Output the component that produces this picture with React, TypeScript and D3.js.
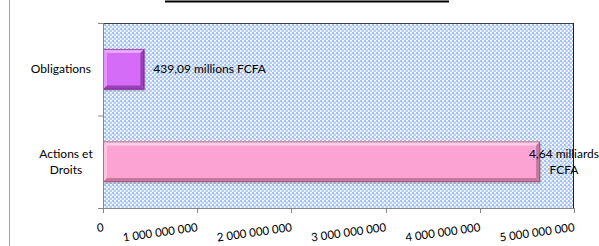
import React from "react";
import * as d3 from "d3";

const categories = ["Obligations", "Actions et Droits"];
const categoryLines = [["Obligations"], ["Actions et", "Droits"]];
const values = [439090000, 4640000000];
const valueLabels = [["439,09 millions FCFA"], ["4,64 milliards", "FCFA"]];
const xTicks = [0, 1000000000, 2000000000, 3000000000, 4000000000, 5000000000];
const xTickLabels = ["0", "1 000 000 000", "2 000 000 000", "3 000 000 000", "4 000 000 000", "5 000 000 000"];
const barColors = [
  { base: "#d56cf7", light: "#e9a8fb", dark: "#9a3fb8", border: "#6e2a86" },
  { base: "#fba3d3", light: "#fdd0e8", dark: "#c9769f", border: "#8e4f6e" },
];

const W = 599;
const H = 246;
const plot = { left: 103, right: 574, top: 23, bottom: 208 };
const FONT = "Lato, 'Open Sans', sans-serif";

export default function App() {
  const x = d3.scaleLinear().domain([0, 5000000000]).range([plot.left, plot.right]);
  const y = d3
    .scaleBand<string>()
    .domain(categories)
    .range([plot.top, plot.bottom])
    .paddingInner(0.56)
    .paddingOuter(0.28);
  const bw = y.bandwidth();
  const bev = 4;

  return (
    <svg
      width={W}
      height={H}
      style={{ position: "absolute", left: 0, top: 0 }}
      fontFamily={FONT}
    >
      <defs>
        <pattern id="chk" patternUnits="userSpaceOnUse" width={4} height={4}>
          <rect width={4} height={4} fill="#d4e3f8" />
          <rect x={0} y={0} width={2} height={2} fill="#a3c1f0" />
          <rect x={2} y={2} width={2} height={2} fill="#b6cef3" />
          <rect x={2} y={0} width={2} height={1} fill="#ffffff" />
          <rect x={0} y={2} width={1} height={2} fill="#f4f8fe" />
        </pattern>
      </defs>
      <rect width={W} height={H} fill="#ffffff" />
      {/* outer chart border (left) */}
      <line x1={9.5} x2={9.5} y1={0} y2={H} stroke="#a0a0a0" />
      {/* title underline */}
      <line x1={165} x2={449} y1={1.5} y2={1.5} stroke="#000" strokeWidth={2} />

      {/* plot area */}
      <rect
        x={plot.left}
        y={plot.top}
        width={plot.right - plot.left}
        height={plot.bottom - plot.top}
        fill="url(#chk)"
      />
      <line x1={plot.left} x2={plot.right} y1={plot.top + 0.5} y2={plot.top + 0.5} stroke="#404040" />
      <line x1={plot.right - 0.5} x2={plot.right - 0.5} y1={plot.top} y2={plot.bottom} stroke="#202020" />

      {/* bars */}
      {categories.map((c, i) => {
        const x0 = x(0);
        const x1 = x(values[i]);
        const y0 = y(c)!;
        const y1 = y0 + bw;
        const col = barColors[i];
        return (
          <g key={c}>
            <rect x={x0 + 1} y={y0 + 2} width={x1 - x0} height={bw} fill="#000" opacity={0.15} />
            <rect x={x0} y={y0} width={x1 - x0} height={bw} fill={col.base} />
            <polygon
              points={`${x0},${y0} ${x1},${y0} ${x1 - bev},${y0 + bev} ${x0 + bev},${y0 + bev}`}
              fill={col.light}
            />
            <polygon
              points={`${x0},${y0} ${x0 + bev},${y0 + bev} ${x0 + bev},${y1 - bev} ${x0},${y1}`}
              fill={col.light}
              opacity={0.7}
            />
            <polygon
              points={`${x0},${y1} ${x0 + bev},${y1 - bev} ${x1 - bev},${y1 - bev} ${x1},${y1}`}
              fill={col.dark}
            />
            <polygon
              points={`${x1},${y0} ${x1},${y1} ${x1 - bev},${y1 - bev} ${x1 - bev},${y0 + bev}`}
              fill={col.dark}
            />
            <rect
              x={x0 + 0.5}
              y={y0 + 0.5}
              width={x1 - x0 - 1}
              height={bw - 1}
              fill="none"
              stroke={col.border}
              strokeWidth={1}
              opacity={0.7}
            />
          </g>
        );
      })}

      {/* y axis */}
      <line x1={plot.left + 0.5} x2={plot.left + 0.5} y1={plot.top} y2={plot.bottom} stroke="#868686" />
      {[plot.top, plot.top + (plot.bottom - plot.top) / 2, plot.bottom].map((t, i) => (
        <line key={i} x1={plot.left - 5} x2={plot.left} y1={t + 0.5} y2={t + 0.5} stroke="#868686" />
      ))}
      {/* x axis */}
      <line x1={plot.left} x2={plot.right} y1={plot.bottom + 0.5} y2={plot.bottom + 0.5} stroke="#868686" />
      {xTicks.map((t) => (
        <line
          key={t}
          x1={Math.round(x(t)) + 0.5}
          x2={Math.round(x(t)) + 0.5}
          y1={plot.bottom}
          y2={plot.bottom + 5}
          stroke="#868686"
        />
      ))}
      {xTicks.map((t, i) => {
        const tx = x(t) + 1;
        const ty = 231;
        return (
          <text
            key={t}
            x={tx}
            y={ty}
            fontSize={11.5}
            fill="#000"
            textAnchor="end"
            transform={`rotate(-8, ${tx}, ${ty})`}
          >
            {xTickLabels[i]}
          </text>
        );
      })}

      {/* category labels */}
      {categories.map((c, i) => {
        const lines = categoryLines[i];
        const cy = y(c)! + bw / 2;
        const lh = 16;
        return lines.map((ln, j) => (
          <text
            key={c + j}
            x={lines.length > 1 ? 66 : 91}
            y={cy + (j - (lines.length - 1) / 2) * lh}
            dy="0.35em"
            fontSize={12}
            textAnchor={lines.length > 1 ? "middle" : "end"}
            fill="#000"
          >
            {ln}
          </text>
        ));
      })}

      {/* value labels */}
      {categories.map((c, i) => {
        const lines = valueLabels[i];
        const cy = y(c)! + bw / 2;
        const lh = 16;
        const multi = lines.length > 1;
        return lines.map((ln, j) => (
          <text
            key={c + "v" + j}
            x={multi ? 564 : x(values[i]) + 9}
            y={cy + (j - (lines.length - 1) / 2) * lh}
            dy="0.35em"
            fontSize={12}
            textAnchor={multi ? "middle" : "start"}
            fill="#000"
          >
            {ln}
          </text>
        ));
      })}
    </svg>
  );
}
